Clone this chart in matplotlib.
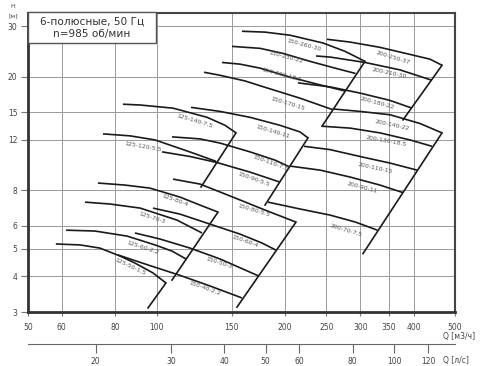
import matplotlib.pyplot as plt
from matplotlib.patches import Rectangle
from matplotlib.ticker import NullLocator

# ---- данные: Q [м3/ч], H [м] ----
names_125 = ["125-140-7.5", "125-120-5.5", "125-80-4", "125-70-3",
             "125-60-2.2", "125-50-1.5"]
q_125 = [
    [83.4, 91.5, 109.3, 131.3, 144.7, 153.5],
    [74.9, 86.7, 99.2, 121.7, 137.8],
    [72.9, 84.4, 96.5, 113.5, 126.4, 139.3],
    [68.0, 77.8, 91.5, 111.7, 127.8],
    [61.4, 71.7, 85.3, 99.2, 108.7, 117.2],
    [58.1, 66.2, 73.7, 82.1, 89.0, 98.1, 105.2],
]
h_125 = [
    [16.0, 15.9, 15.5, 14.4, 13.5, 12.7],
    [12.6, 12.4, 12.0, 10.8, 10.1],
    [8.48, 8.34, 8.14, 7.57, 7.10, 6.71],
    [7.27, 7.16, 6.93, 6.29, 5.67],
    [5.80, 5.76, 5.53, 5.15, 4.90, 4.60],
    [5.19, 5.15, 5.02, 4.71, 4.45, 4.11, 3.79],
]

names_150 = ["150-260-30", "150-230-22", "150-200-18.5", "150-170-15",
             "150-140-11", "150-110-7.5", "150-90-5.5", "150-80-5.5",
             "150-60-4", "150-50-3", "150-40-2.2"]
q_150 = [
    [158.5, 179.5, 205.4, 245.4, 276.3, 307.7],
    [150.2, 174.7, 197.7, 228.8, 261.8, 292.4],
    [142.3, 156.8, 174.7, 205.4, 241.5, 276.3],
    [129.2, 140.8, 161.1, 182.4, 216.7, 259.0],
    [120.4, 140.8, 165.5, 194.6, 216.7, 226.3],
    [108.7, 126.4, 140.8, 165.5, 189.4, 205.4],
    [103.0, 119.8, 138.6, 165.5, 194.6],
    [109.3, 126.4, 151.0, 179.5, 212.1],
    [98.1, 113.5, 133.4, 156.8, 176.6, 190.4],
    [89.0, 101.9, 119.8, 140.8, 161.1, 172.8],
    [81.2, 96.5, 113.5, 133.4, 158.5],
]
h_150 = [
    [28.8, 28.6, 27.9, 26.2, 24.5, 22.6],
    [25.5, 25.1, 24.1, 22.6, 21.4, 20.5],
    [22.4, 22.1, 21.4, 19.9, 18.7, 17.8],
    [20.7, 20.2, 19.3, 18.2, 16.8, 15.3],
    [15.6, 15.1, 14.4, 13.5, 12.8, 12.2],
    [12.3, 12.1, 11.7, 10.9, 10.2, 9.64],
    [10.9, 10.5, 10.0, 9.26, 8.54],
    [8.75, 8.41, 7.57, 6.82, 6.19],
    [6.93, 6.60, 6.09, 5.62, 5.23, 4.94],
    [5.67, 5.40, 5.02, 4.60, 4.21, 4.02],
    [4.75, 4.36, 4.03, 3.70, 3.36],
]

names_200 = ["200-250-37", "200-210-30", "200-180-22", "200-140-22",
             "200-130-18.5", "200-110-15", "200-90-11", "200-70-7.5"]
q_200 = [
    [250.7, 283.8, 333.7, 392.2, 437.0, 466.2],
    [236.3, 254.8, 307.7, 371.6, 441.7],
    [214.4, 254.8, 299.6, 352.1, 396.5],
    [259.0, 299.6, 352.1, 413.9, 466.2],
    [244.1, 283.8, 333.7, 392.2, 441.7],
    [221.5, 254.8, 299.6, 352.1, 407.3],
    [205.4, 241.5, 283.8, 333.7, 377.7],
    [182.4, 216.7, 254.8, 292.4, 329.2],
]
h_200 = [
    [27.0, 26.4, 25.3, 23.9, 23.0, 21.9],
    [23.6, 23.4, 22.4, 21.1, 19.4],
    [19.0, 18.4, 17.5, 16.5, 15.5],
    [15.4, 15.1, 14.7, 13.7, 12.7],
    [13.4, 13.2, 12.7, 12.0, 11.4],
    [11.4, 11.1, 10.5, 9.96, 9.41],
    [9.72, 9.41, 8.90, 8.34, 7.85],
    [7.27, 6.88, 6.55, 6.19, 5.80],
]

# правые границы рабочих полей
limit_q = [[153.5, 127.1], [139.3, 108.7], [105.2, 95.5], [307.7, 244.1],
           [226.3, 179.5], [212.1, 154.3], [466.2, 377.7], [466.2, 304.4]]
limit_h = [[12.7, 8.21], [6.71, 3.88], [3.79, 3.10], [22.6, 13.4],
           [12.2, 7.10], [6.19, 3.12], [21.9, 14.1], [12.7, 4.80]]

x_ticks = [50, 60, 80, 100, 150, 200, 250, 300, 350, 400, 500]
y_ticks = [3, 4, 5, 6, 8, 12, 15, 20, 30]
ls_ticks = [20, 30, 40, 50, 60, 80, 100, 120]

# положение подписей: (Q, H, угол)
label_pos = {
    "125-140-7.5": (123.0, 13.97, -17), "125-120-5.5": (93.0, 11.4, -10),
    "125-80-4": (110.5, 7.39, -20), "125-70-3": (97.6, 6.40, -18),
    "125-60-2.2": (93.0, 5.02, -18), "125-50-1.5": (86.7, 4.31, -25),
    "150-260-30": (221.5, 25.7, -15), "150-230-22": (201.0, 23.4, -15),
    "150-200-18.5": (196.7, 20.2, -15), "150-170-15": (203.2, 16.1, -17),
    "150-140-11": (187.4, 12.8, -17), "150-110-7.5": (184.4, 10.0, -20),
    "150-90-5.5": (169.1, 8.75, -20), "150-80-5.5": (169.1, 6.77, -17),
    "150-60-4": (161.1, 5.31, -20), "150-50-3": (140.1, 4.45, -18),
    "150-40-2.2": (129.9, 3.64, -20),
    "200-250-37": (357.9, 23.2, -17), "200-210-30": (350.2, 20.6, -12),
    "200-180-22": (328.3, 16.1, -15), "200-140-22": (356.0, 13.5, -12),
    "200-130-18.5": (344.6, 11.9, -10), "200-110-15": (324.8, 9.56, -12),
    "200-90-11": (302.8, 8.14, -15), "200-70-7.5": (277.8, 5.80, -17),
}

W, H = 480, 366
fig = plt.figure(figsize=(4.8, 3.66), dpi=100)
left, right, top, bottom = 28, 455, 12.5, 312
ax = fig.add_axes([left / W, 1 - bottom / H, (right - left) / W, (bottom - top) / H])

ax.set_xscale('log')
ax.set_yscale('log')
ax.set_xlim(50, 500)
ax.set_ylim(3, 33.5)
ax.set_xticks(x_ticks)
ax.set_xticklabels([str(v) for v in x_ticks])
ax.set_yticks(y_ticks)
ax.set_yticklabels([str(v) for v in y_ticks])
ax.xaxis.set_minor_locator(NullLocator())
ax.yaxis.set_minor_locator(NullLocator())
ax.grid(True, color='#9a9a9a', lw=0.7)
ax.tick_params(axis='x', length=3, pad=5, color='#777', labelsize=5.5, labelcolor='#444')
ax.tick_params(axis='y', length=5, pad=2.5, color='#777', labelsize=5.5, labelcolor='#444')
for s in ['left', 'bottom']:
    ax.spines[s].set_linewidth(2)
    ax.spines[s].set_color('#333')
for s in ['top', 'right']:
    ax.spines[s].set_linewidth(1.5)
    ax.spines[s].set_color('#444')

# кривые
for qs, hs in [(q_125, h_125), (q_150, h_150), (q_200, h_200)]:
    for q, h in zip(qs, hs):
        ax.plot(q, h, color='#1a1a1a', lw=1.2, solid_capstyle='butt',
                solid_joinstyle='round')
for q, h in zip(limit_q, limit_h):
    ax.plot(q, h, color='#1a1a1a', lw=1.2)

for name in names_125 + names_150 + names_200:
    qx, hy, ang = label_pos[name]
    ax.text(qx, hy, name, fontsize=4.4, color='#555', rotation=ang,
            rotation_mode='anchor', ha='center', va='center')

# заголовок в рамке
ax.add_patch(Rectangle((0, 0.898), 0.2998, 0.102, transform=ax.transAxes,
                       facecolor='white', edgecolor='#555', lw=1, zorder=5,
                       clip_on=False))
ax.text(0.15, 0.95, "6-полюсные, 50 Гц\nn=985 об/мин", transform=ax.transAxes,
        ha='center', va='center', fontsize=7.6, color='#333', linespacing=1.3,
        zorder=6)

# вторая шкала в л/с
ax2 = fig.add_axes([left / W, 1 - 344 / H, (right - left) / W, 0.001])
ax2.set_xscale('log')
ax2.set_xlim(50 / 3.6, 500 / 3.6)
ax2.set_xticks(ls_ticks)
ax2.set_xticklabels([str(v) for v in ls_ticks])
ax2.xaxis.set_minor_locator(NullLocator())
ax2.set_yticks([])
ax2.patch.set_alpha(0)
for s in ['left', 'right', 'top']:
    ax2.spines[s].set_visible(False)
ax2.spines['bottom'].set_color('#666')
ax2.spines['bottom'].set_linewidth(0.8)
ax2.tick_params(axis='x', length=6.5, pad=3, color='#666', labelsize=5.5, labelcolor='#444')

fig.text(13 / W, 1 - 7 / H, "H", fontsize=4.5, color='#444', ha='center', va='center')
fig.text(13 / W, 1 - 16 / H, "[м]", fontsize=4.5, color='#444', ha='center', va='center')
fig.text(475 / W, 1 - 336 / H, "Q [м3/ч]", fontsize=5.5, color='#444', ha='right', va='center')
fig.text(443 / W, 1 - 360 / H, "Q [л/с]", fontsize=5.5, color='#444', ha='left', va='center')

fig.savefig("out.png", dpi=100)
